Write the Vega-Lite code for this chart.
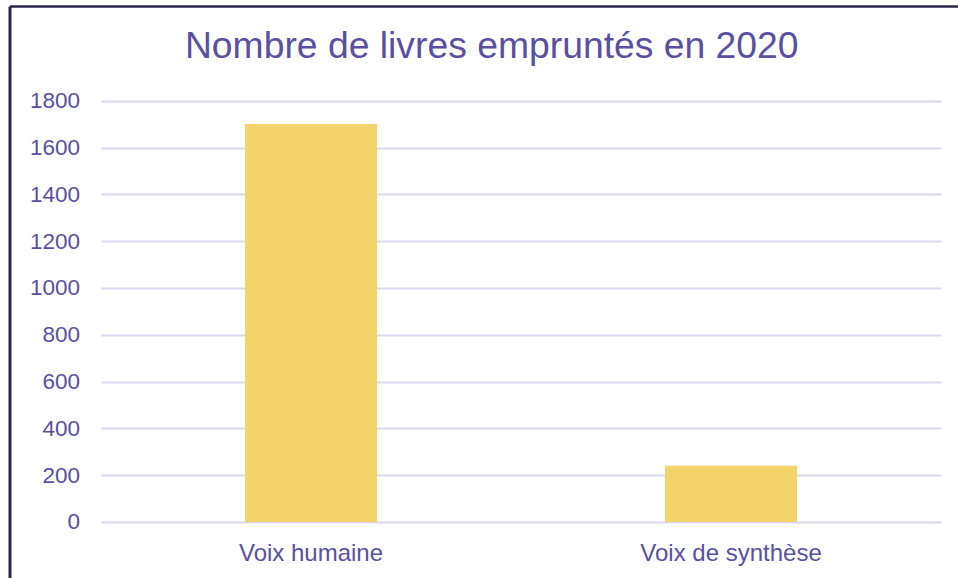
{
  "$schema": "https://vega.github.io/schema/vega-lite/v6.json",
  "width": 948.5,
  "height": 572,
  "autosize": {"type": "none"},
  "padding": {"left": 9.5, "top": 6, "right": 0, "bottom": 0},
  "background": "white",
  "config": {"view": {"stroke": null}, "font": "Liberation Sans"},
  "title": {
    "text": "Nombre de livres empruntés en 2020",
    "fontSize": 37.3,
    "font": "Liberation Sans",
    "fontWeight": "normal",
    "color": "#5A4FA0",
    "anchor": "middle",
    "frame": "group",
    "baseline": "alphabetic",
    "offset": 0,
    "dy": 91,
    "dx": 8
  },
  "data": {
    "values": [
      {"Type": "Voix humaine", "Livres": 1700},
      {"Type": "Voix de synthèse", "Livres": 240}
    ]
  },
  "resolve": {"axis": {"x": "independent", "y": "independent"}},
  "layer": [
    {
      "mark": {"type": "bar", "opacity": 0},
      "encoding": {
        "x": {
          "field": "Type", "type": "nominal", "sort": null,
          "scale": {"paddingInner": 0.685714, "paddingOuter": 0.472024, "align": 0.59395},
          "axis": null
        },
        "y": {
          "field": "Livres", "type": "quantitative",
          "scale": {"domain": [-239.3, 2204.6], "nice": false, "zero": false},
          "axis": {"orient": "left", "title": null, "labels": false, "domain": false, "grid": false, "ticks": true, "tickSize": 840, "tickWidth": 2, "tickColor": "#DAD7EE", "offset": -931.5, "values": [0, 200, 400, 600, 800, 1000, 1200, 1400, 1600, 1800]}
        }
      }
    },
    {
      "mark": {"type": "bar", "opacity": 0},
      "encoding": {
        "x": {"field": "Type", "type": "nominal", "sort": null, "axis": null},
        "y": {
          "field": "Livres", "type": "quantitative",
          "axis": {"orient": "left", "title": null, "labels": false, "ticks": false, "grid": false, "domain": true, "domainColor": "#2B2548", "domainWidth": 3}
        }
      }
    },
    {
      "mark": {"type": "bar", "opacity": 0},
      "encoding": {
        "x": {"field": "Type", "type": "nominal", "sort": null, "axis": null},
        "y": {
          "field": "Livres", "type": "quantitative",
          "axis": {"orient": "right", "title": null, "labels": false, "domain": false, "grid": false, "ticks": true, "tickSize": 949, "tickWidth": 2.5, "tickColor": "#2B2548", "offset": -948.5, "values": [2204.6]}
        }
      }
    },
    {
      "mark": {"type": "bar", "color": "#F2D46B"},
      "encoding": {
        "x": {
          "field": "Type", "type": "nominal", "sort": null,
          "axis": {"orient": "bottom", "title": null, "labels": true, "ticks": false, "tickSize": 0, "domain": false, "grid": false, "offset": -56, "labelPadding": 19, "labelFontSize": 24, "labelLimit": 400, "labelColor": "#5A4FA0", "labelFont": "Liberation Sans", "labelAngle": 0}
        },
        "y": {
          "field": "Livres", "type": "quantitative",
          "axis": {"orient": "left", "title": null, "ticks": false, "tickSize": 0, "domain": false, "grid": false, "offset": -70, "labelPadding": 0, "labelFontSize": 22.5, "labelColor": "#5A4FA0", "labelFont": "Liberation Sans", "format": "d", "values": [0, 200, 400, 600, 800, 1000, 1200, 1400, 1600, 1800]}
        }
      }
    }
  ]
}
